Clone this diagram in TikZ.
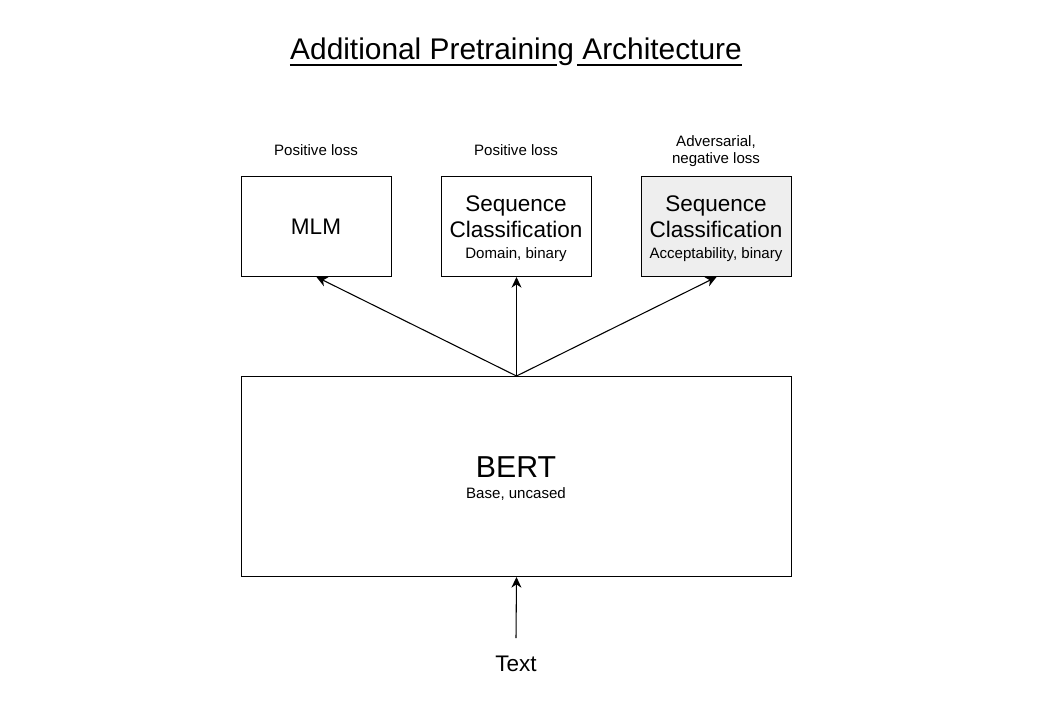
\documentclass[tikz,border=0pt]{standalone}
\usepackage{fontspec}
\setmainfont{Liberation Sans}
\usetikzlibrary{arrows.meta}
\definecolor{lightfill}{RGB}{238,238,238}
\begin{document}
\begin{tikzpicture}[x=0.75pt,y=-0.75pt,
  box/.style={draw=black,line width=0.75pt,minimum width=150*0.75pt,minimum height=100*0.75pt,inner sep=0pt},
  conn/.style={-{Stealth[length=8pt,width=7.5pt,inset=2.5pt]},line width=0.8pt},
  big/.style={font=\fontsize{16.9}{20}\selectfont,inner sep=0pt,anchor=base},
  small/.style={font=\fontsize{11.3}{13.5}\selectfont,inner sep=0pt,anchor=base},
  huge/.style={font=\fontsize{22.7}{26}\selectfont,inner sep=0pt,anchor=base}]
\useasboundingbox (0,0) rectangle (1042,706);
\node[font=\fontsize{22.4}{26}\selectfont,inner sep=0pt,anchor=base] (title) at (516,60) {Additional Pretraining Architecture};
\draw[line width=1.7pt] ([yshift=-3.5pt]title.base west) -- ([yshift=-3.5pt]title.base west -| 557,0);
\draw[line width=1.7pt] ([yshift=-3.5pt]title.base east -| 577,0) -- ([yshift=-3.5pt]title.base east);
\node[box,anchor=north west] (mlm) at (241,176) {};
\node[box,anchor=north west] (seqd) at (441,176) {};
\node[box,anchor=north west,fill=lightfill] (seqa) at (641,176) {};
\node[box,anchor=north west,minimum width=550*0.75pt,minimum height=200*0.75pt] (bert) at (241,376) {};
\node[small] (l1) at (316,156) {Positive loss};
\node[small] (l2) at (516,156) {Positive loss};
\node[small] (l3a) at (716,147) {Adversarial,};
\node[small] (l3b) at (716,164) {negative loss};
\node[big] (t1) at (316,234) {MLM};
\node[big] (t2a) at (516,211) {Sequence};
\node[big] (t2b) at (516,237) {Classification};
\node[small] (t2c) at (516,258) {Domain, binary};
\node[big] (t3a) at (716,211) {Sequence};
\node[big] (t3b) at (716,237) {Classification};
\node[small] (t3c) at (716,258) {Acceptability, binary};
\node[huge] (tb) at (516,477) {BERT};
\node[small] (tbs) at (516,498) {Base, uncased};
\node[big] (txt) at (516,671) {Text};
\coordinate (src) at (516,638);
\draw[conn] (bert.north) -- (mlm.south);
\draw[conn] (bert.north) -- (seqd.south);
\draw[conn] (bert.north) -- (seqa.south);
\draw[conn] (src) -- (bert.south);
\end{tikzpicture}
\end{document}
